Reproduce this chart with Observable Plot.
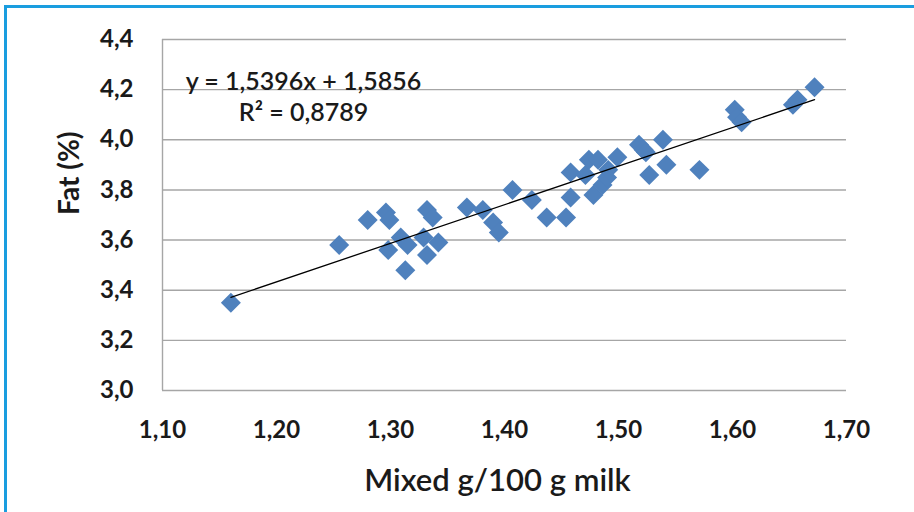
<!DOCTYPE html>
<html>
<head>
<meta charset="utf-8">
<script src="https://cdn.jsdelivr.net/npm/d3@7"></script>
<script src="https://cdn.jsdelivr.net/npm/@observablehq/plot@0.6"></script>
<style>
  html, body { margin: 0; padding: 0; background: #fff; }
  #wrap { position: relative; width: 914px; height: 512px; overflow: hidden; }
  #frame { position: absolute; left: 4px; top: 5px; width: 930px; height: 530px;
           border-top: 3px solid #1a9ddf; border-left: 3px solid #1a9ddf; pointer-events: none; }
  #chart { position: absolute; left: 0; top: 0; }
</style>
</head>
<body>
<div id="wrap"><div id="chart"></div><div id="frame"></div></div>
<script>
// Mixed g/100 g milk (x) vs Fat % (y)
const mixed = [1.160, 1.255, 1.280, 1.296, 1.299, 1.298, 1.309, 1.313, 1.315, 1.329,
               1.332, 1.337, 1.332, 1.342, 1.367, 1.381, 1.390, 1.395, 1.407, 1.424,
               1.437, 1.454, 1.458, 1.458, 1.471, 1.474, 1.478, 1.482, 1.486, 1.490,
               1.491, 1.499, 1.518, 1.522, 1.524, 1.527, 1.539, 1.542, 1.571, 1.602,
               1.604, 1.608, 1.653, 1.657, 1.672];
const fat   = [3.35, 3.58, 3.68, 3.71, 3.68, 3.56, 3.61, 3.48, 3.58, 3.61,
               3.72, 3.69, 3.54, 3.59, 3.73, 3.72, 3.67, 3.63, 3.80, 3.76,
               3.69, 3.69, 3.77, 3.87, 3.86, 3.92, 3.78, 3.92, 3.82, 3.85,
               3.88, 3.93, 3.98, 3.96, 3.95, 3.86, 4.00, 3.90, 3.88, 4.12,
               4.09, 4.07, 4.14, 4.16, 4.21];
const slope = 1.5396;
const intercept = 1.5856;
const equationLabels = ["y = 1,5396x + 1,5856", "R² = 0,8789"];
const xTicks = [1.10, 1.20, 1.30, 1.40, 1.50, 1.60, 1.70];
const yTicks = [3.0, 3.2, 3.4, 3.6, 3.8, 4.0, 4.2, 4.4];
const xTitle = "Mixed g/100 g milk";
const yTitle = "Fat (%)";

const points = mixed.map((m, i) => ({x: m, y: fat[i]}));
const xmin = d3.min(mixed), xmax = d3.max(mixed);
const trend = [xmin, xmax].map(x => ({x, y: slope * x + intercept}));

const font = "Lato, 'Open Sans', sans-serif";
const grid = "#a6a6a6";

const chart = Plot.plot({
  width: 914,
  height: 512,
  marginLeft: 162,
  marginRight: 68,
  marginTop: 39,
  marginBottom: 122,
  style: {fontFamily: font, background: "white", overflow: "visible"},
  x: {domain: [1.1, 1.7]},
  y: {domain: [3.0, 4.4]},
  marks: [
    Plot.gridY(yTicks, {stroke: grid, strokeOpacity: 1, strokeWidth: 1.4}),
    Plot.ruleX([1.1], {stroke: grid, strokeWidth: 1.4}),
    Plot.axisY(yTicks, {tickSize: 0, tickPadding: 29, fontSize: 24, fontWeight: "bold", fill: "#1a1a1a",
      tickFormat: d => d3.format(".1f")(d).replace(".", ","), label: null}),
    Plot.axisX(xTicks, {tickSize: 0, tickPadding: 30, fontSize: 24, fontWeight: "bold", fill: "#1a1a1a",
      tickFormat: d => d3.format(".2f")(d).replace(".", ","), label: null}),
    Plot.dot(points, {x: "x", y: "y", symbol: "diamond2", r: 9, fill: "#4f81bd", stroke: "none"}),
    Plot.line(trend, {x: "x", y: "y", stroke: "#000", strokeWidth: 1.3}),
    Plot.text([equationLabels[0]], {frameAnchor: "top-left", textAnchor: "middle", dx: 141, dy: 33, fontSize: 25, fill: "#1a1a1a", fontWeight: 600}),
    Plot.text([equationLabels[1]], {frameAnchor: "top-left", textAnchor: "middle", dx: 141, dy: 64, fontSize: 25, fill: "#1a1a1a", fontWeight: 600}),
    Plot.text([yTitle], {frameAnchor: "left", dx: -92, rotate: -90, fontSize: 28, fontWeight: "bold", fill: "#1a1a1a"}),
    Plot.text([xTitle], {frameAnchor: "bottom", dx: -7, dy: 100, fontSize: 31, fontWeight: 600, fill: "#1a1a1a"})
  ]
});
document.getElementById("chart").appendChild(chart);
</script>
</body>
</html>
